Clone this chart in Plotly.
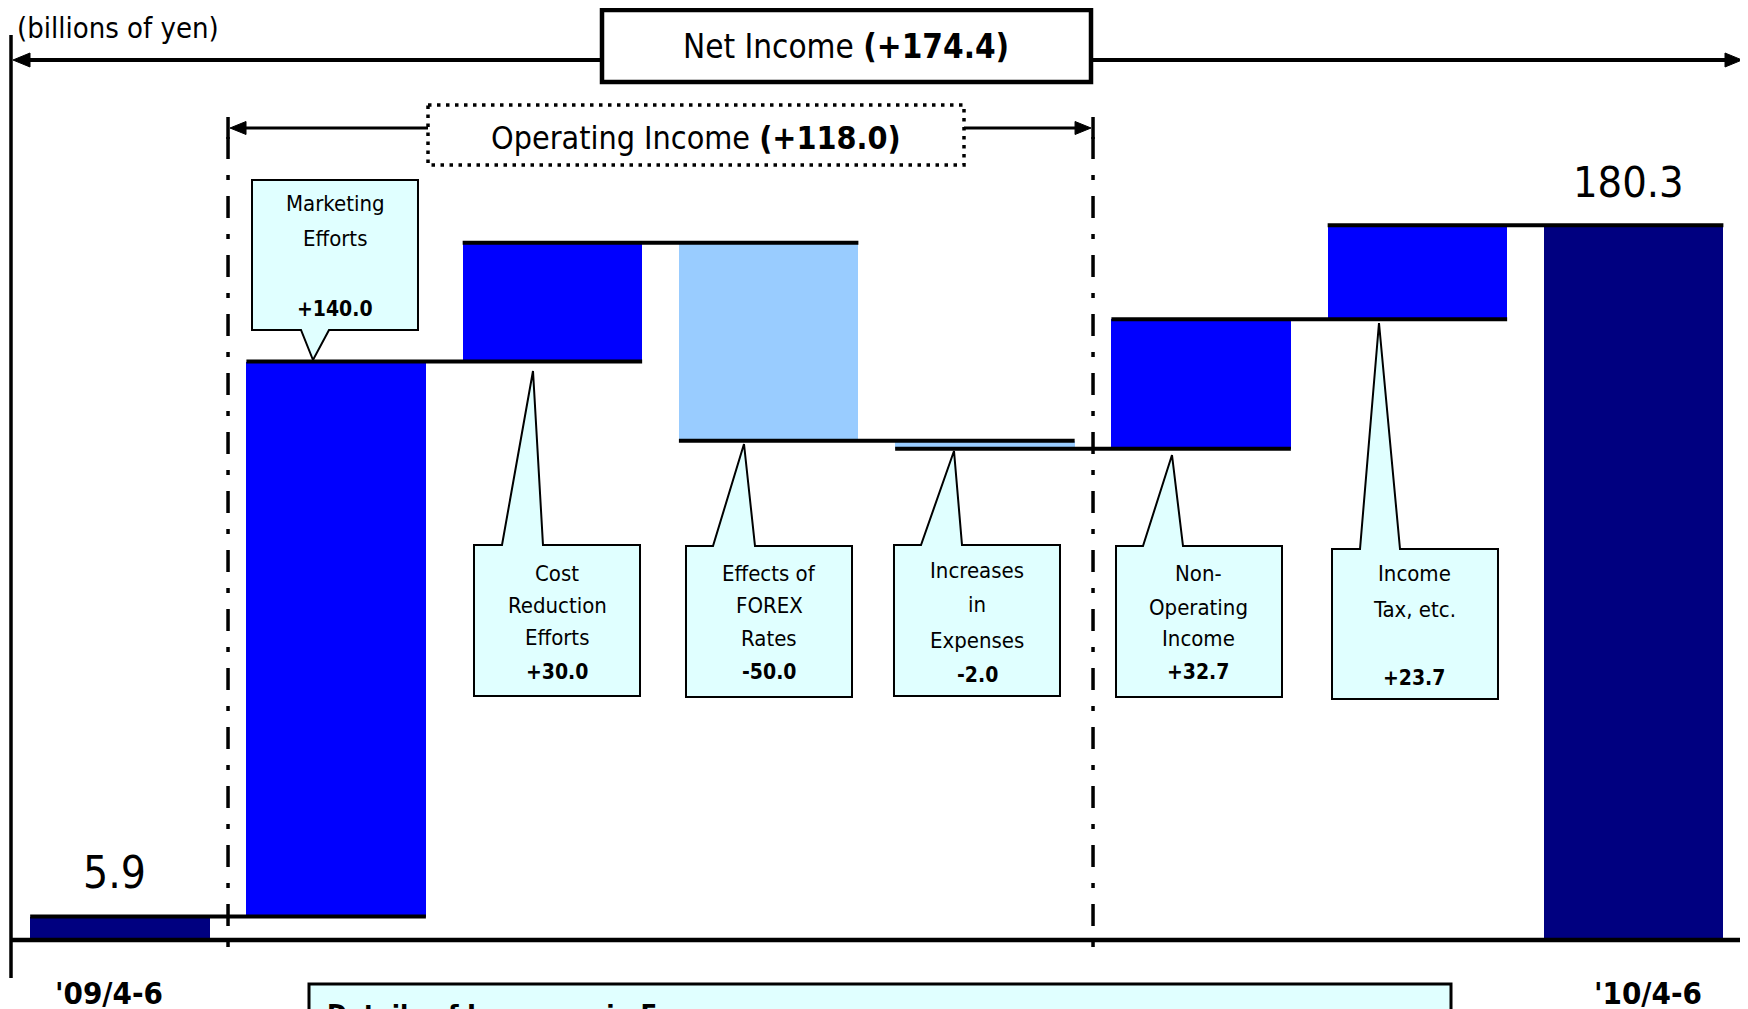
import plotly.graph_objects as go

# ---------------- data ----------------
categories = ["'09/4-6", "Marketing Efforts", "Cost Reduction Efforts", "Effects of FOREX Rates",
              "Increases in Expenses", "Non-Operating Income", "Income Tax, etc.", "'10/4-6"]
start_value = 5.9
changes = [140.0, 30.0, -50.0, -2.0, 32.7, 23.7]
end_value = 180.3
callout_lines = [["Marketing", "Efforts", ""],
                 ["Cost", "Reduction", "Efforts"],
                 ["Effects of", "FOREX", "Rates"],
                 ["Increases", "in", "Expenses"],
                 ["Non-", "Operating", "Income"],
                 ["Income", "Tax, etc.", ""]]
n_operating = 4          # first four changes make up operating income
unit_label = "(billions of yen)"
bottom_title = "Details of Increases in Expenses"

# ---------------- styles / geometry ----------------
W, H = 1748, 1009
OFF = 8                      # page body margin around the figure
FONT = "Liberation Sans Narrow, Arial Narrow, DejaVu Sans Condensed, Liberation Sans, Arial"
NAVY, BLUE, LIGHT, CYAN = "#000080", "#0000FF", "#99CCFF", "#E0FFFF"
BAR_W = 0.83
CAT0_PX, CAT_STEP_PX = 119.9, 216.25      # screen position of first category, spacing
ZERO_PX, PX_PER_UNIT = 939.9, 3.964       # screen position of value 0, pixels per unit
X_RANGE = [(OFF - CAT0_PX) / CAT_STEP_PX, (OFF + W - CAT0_PX) / CAT_STEP_PX]
Y_RANGE = [(ZERO_PX - OFF - H) / PX_PER_UNIT, (ZERO_PX - OFF) / PX_PER_UNIT]


def fx(x):
    return (x - OFF) / W


def fy(y):
    return 1 - (y - OFF) / H


def xdata(px):
    return (px - CAT0_PX) / CAT_STEP_PX


def xpx(xd):
    return CAT0_PX + xd * CAT_STEP_PX


def path(points):
    return "M " + " L ".join(f"{fx(a):.5f},{fy(b):.5f}" for a, b in points) + " Z"


# cumulative levels
levels = [start_value]
for c in changes:
    levels.append(round(levels[-1] + c, 1))

xs = list(range(len(categories)))
bases, heights, colors = [0], [start_value], [NAVY]
for k, c in enumerate(changes):
    bases.append(levels[k])
    heights.append(c)
    colors.append(BLUE if c >= 0 else LIGHT)
bases.append(0)
heights.append(end_value)
colors.append(NAVY)

fig = go.Figure()
fig.add_trace(go.Bar(x=xs, y=heights, base=bases, width=BAR_W,
                     marker=dict(color=colors, line=dict(width=0)),
                     showlegend=False, hoverinfo="skip"))

# connectors: from left edge of bar k to right edge of bar k+1 at level k
cx, cy = [], []
for k in range(len(levels)):
    cx += [k - BAR_W / 2, k + 1 + BAR_W / 2, None]
    cy += [levels[k], levels[k], None]
fig.add_trace(go.Scatter(x=cx, y=cy, mode="lines", line=dict(color="black", width=4),
                         showlegend=False, hoverinfo="skip"))
# baseline
fig.add_trace(go.Scatter(x=[xdata(11), xdata(1744)], y=[0, 0], mode="lines",
                         line=dict(color="black", width=4.5), showlegend=False, hoverinfo="skip"))

shapes = []
annotations = []

# outer vertical lines
for xr in (11, 1744):
    shapes.append(dict(type="line", xref="paper", yref="paper", x0=fx(xr), x1=fx(xr),
                       y0=fy(35), y1=fy(978), line=dict(color="black", width=3.5)))

# dash-dot separators at boundaries of operating income section
SEP = (0.5, n_operating + 0.5)
for xb in SEP:
    shapes.append(dict(type="line", xref="x", yref="paper", x0=xb, x1=xb,
                       y0=fy(137), y1=fy(958),
                       line=dict(color="black", width=3.5, dash="22px,16px,5px,16px")))
    shapes.append(dict(type="line", xref="x", yref="paper", x0=xb, x1=xb,
                       y0=fy(117), y1=fy(139), line=dict(color="black", width=3.5)))

# Net income arrow
NY = 60
shapes.append(dict(type="line", xref="paper", yref="paper", x0=fx(20), x1=fx(1736),
                   y0=fy(NY), y1=fy(NY), line=dict(color="black", width=4)))
shapes.append(dict(type="path", xref="paper", yref="paper",
                   path=path([(13, NY), (30, NY - 7), (30, NY + 7)]),
                   fillcolor="black", line=dict(color="black", width=1)))
shapes.append(dict(type="path", xref="paper", yref="paper",
                   path=path([(1742, NY), (1725, NY - 7), (1725, NY + 7)]),
                   fillcolor="black", line=dict(color="black", width=1)))
shapes.append(dict(type="rect", xref="paper", yref="paper", x0=fx(602), x1=fx(1091),
                   y0=fy(10), y1=fy(82), fillcolor="white", line=dict(color="black", width=4.5)))
net_change = round(end_value - start_value, 1)
annotations.append(dict(xref="paper", yref="paper", x=fx(846), y=fy(46),
                        text=f"Net Income <b>({net_change:+.1f})</b>", showarrow=False,
                        font=dict(family=FONT, size=33, color="black"),
                        xanchor="center", yanchor="middle"))

# Operating income arrow
OY = 128
lt, rt = xpx(SEP[0]) + 2, xpx(SEP[1]) - 2
shapes.append(dict(type="line", xref="paper", yref="paper", x0=fx(lt + 8), x1=fx(rt - 8),
                   y0=fy(OY), y1=fy(OY), line=dict(color="black", width=3)))
shapes.append(dict(type="path", xref="paper", yref="paper",
                   path=path([(lt, OY), (lt + 16, OY - 6.5), (lt + 16, OY + 6.5)]),
                   fillcolor="black", line=dict(color="black", width=1)))
shapes.append(dict(type="path", xref="paper", yref="paper",
                   path=path([(rt, OY), (rt - 16, OY - 6.5), (rt - 16, OY + 6.5)]),
                   fillcolor="black", line=dict(color="black", width=1)))
shapes.append(dict(type="rect", xref="paper", yref="paper", x0=fx(428), x1=fx(964),
                   y0=fy(105), y1=fy(165), fillcolor="white",
                   line=dict(color="black", width=3.5, dash="3.5px,5.5px")))
op_change = round(sum(changes[:n_operating]), 1)
annotations.append(dict(xref="paper", yref="paper", x=fx(696), y=fy(138),
                        text=f"Operating Income <b>({op_change:+.1f})</b>", showarrow=False,
                        font=dict(family=FONT, size=32, color="black"),
                        xanchor="center", yanchor="middle"))

# unit label
annotations.append(dict(xref="paper", yref="paper", x=fx(15), y=fy(28),
                        text=unit_label, showarrow=False,
                        font=dict(family=FONT, size=29, color="black"),
                        xanchor="left", yanchor="middle"))

# callouts: box (x0, x1, y0, y1), pointer base (bx0, bx1), tip (tx, ty), text center x, line y's
callout_geom = [
    dict(box=(252, 418, 180, 330), base=(301, 329), tip=(313, 360), cx=335, ly=(204, 238, 0, 309), up=False),
    dict(box=(474, 640, 545, 696), base=(502, 543), tip=(533, 371), cx=557, ly=(573, 605, 637, 672), up=True),
    dict(box=(686, 852, 546, 697), base=(713, 755), tip=(744, 444), cx=769, ly=(573, 605, 638, 672), up=True),
    dict(box=(894, 1060, 545, 696), base=(921, 962), tip=(954, 451), cx=977, ly=(570, 604, 640, 675), up=True),
    dict(box=(1116, 1282, 546, 697), base=(1143, 1183), tip=(1172, 455), cx=1198, ly=(573, 607, 638, 672), up=True),
    dict(box=(1332, 1498, 549, 699), base=(1360, 1400), tip=(1379, 323), cx=1414, ly=(573, 609, 0, 678), up=True),
]
for k, g in enumerate(callout_geom):
    x0, x1, y0, y1 = g["box"]
    b0, b1 = g["base"]
    tx, ty = g["tip"]
    if g["up"]:
        pts = [(x0, y0), (b0, y0), (tx, ty), (b1, y0), (x1, y0), (x1, y1), (x0, y1)]
    else:
        pts = [(x0, y0), (x1, y0), (x1, y1), (b1, y1), (tx, ty), (b0, y1), (x0, y1)]
    shapes.append(dict(type="path", xref="paper", yref="paper", path=path(pts),
                       fillcolor=CYAN, line=dict(color="black", width=2), layer="above"))
    lines = callout_lines[k] + [f"<b>{changes[k]:+.1f}</b>"]
    sizes = [22, 22, 22, 21]
    for t, yy, sz in zip(lines, g["ly"], sizes):
        if not t:
            continue
        annotations.append(dict(xref="paper", yref="paper", x=fx(g["cx"]), y=fy(yy),
                                text=t, showarrow=False,
                                font=dict(family=FONT, size=sz, color="black"),
                                xanchor="center", yanchor="middle"))

# value labels on totals
annotations.append(dict(x=0, y=start_value, text=f"{start_value:.1f}", showarrow=False,
                        font=dict(family=FONT, size=44, color="black"),
                        xanchor="center", yanchor="middle", yshift=44, xshift=-5))
annotations.append(dict(x=len(categories) - 1, y=end_value, text=f"{end_value:.1f}", showarrow=False,
                        font=dict(family=FONT, size=43, color="black"),
                        xanchor="center", yanchor="middle", yshift=43, xshift=-5))

# category labels for the totals
for idx, xs_shift in ((0, -11), (len(categories) - 1, 14)):
    annotations.append(dict(x=idx, y=0, text=f"<b>{categories[idx]}</b>", showarrow=False,
                            font=dict(family=FONT, size=31, color="black"),
                            xanchor="center", yanchor="middle", yshift=-53, xshift=xs_shift))

# bottom (cut-off) details box
shapes.append(dict(type="rect", xref="paper", yref="paper", x0=fx(309), x1=fx(1451),
                   y0=fy(984), y1=fy(1040), fillcolor=CYAN, line=dict(color="black", width=3)))
annotations.append(dict(xref="paper", yref="paper", x=fx(325), y=fy(997),
                        text=f"<b>{bottom_title}</b>", showarrow=False,
                        font=dict(family=FONT, size=27, color="black"),
                        xanchor="left", yanchor="top"))

fig.update_layout(
    width=W, height=H,
    margin=dict(l=0, r=0, t=0, b=0),
    paper_bgcolor="white", plot_bgcolor="white",
    xaxis=dict(range=X_RANGE, visible=False, fixedrange=True),
    yaxis=dict(range=Y_RANGE, visible=False, fixedrange=True),
    shapes=shapes, annotations=annotations,
    bargap=0, showlegend=False,
)

fig.write_html("out.html")
